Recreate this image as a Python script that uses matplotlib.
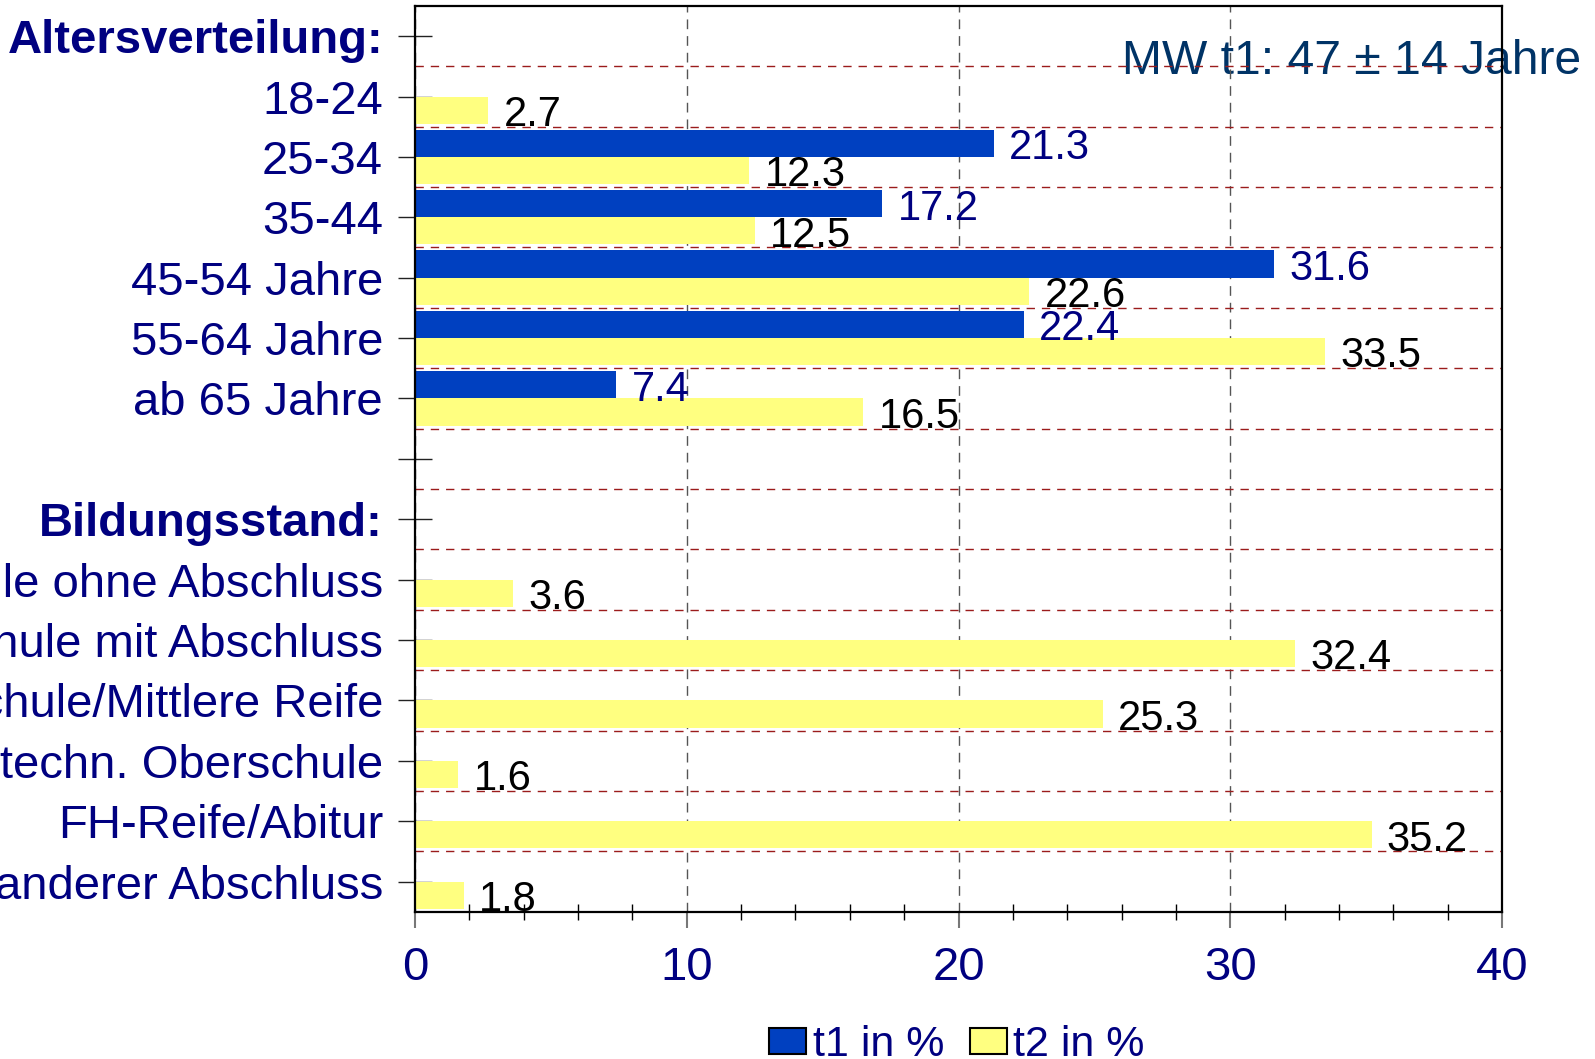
import numpy as np
import matplotlib
matplotlib.use("Agg")
import matplotlib.pyplot as plt
from matplotlib.patches import Patch
from matplotlib.ticker import MultipleLocator, FixedLocator

plt.rcParams['font.family'] = ['Liberation Sans', 'DejaVu Sans']

# ---- data ----
categories = ["Altersverteilung:", "18-24", "25-34", "35-44", "45-54 Jahre",
              "55-64 Jahre", "ab 65 Jahre", "", "Bildungsstand:",
              "Hauptschule ohne Abschluss", "Hauptschule mit Abschluss",
              "Realschule/Mittlere Reife", "Polytechn. Oberschule",
              "FH-Reife/Abitur", "anderer Abschluss"]
bold_labels = ["Altersverteilung:", "Bildungsstand:"]
t1_values = [None, None, 21.3, 17.2, 31.6, 22.4, 7.4, None, None,
             None, None, None, None, None, None]
t2_values = [None, 2.7, 12.3, 12.5, 22.6, 33.5, 16.5, None, None,
             3.6, 32.4, 25.3, 1.6, 35.2, 1.8]
series_names = ["t1 in %", "t2 in %"]
x_ticks = [0, 10, 20, 30, 40]
note = "MW t1: 47 \u00b1 14 Jahre"

# ---- styles ----
BLUE = "#0040C0"
YELLOW = "#FFFF80"
NAVY = "#000080"
NOTE_COLOR = "#003366"

fig = plt.figure(figsize=(15.95, 10.59), dpi=100)
ax = fig.add_axes([0.2602, 0.1391, 0.6815, 0.8553])

n = len(categories)
ypos = np.arange(n)
bar_h = 0.45

for i, v in enumerate(t1_values):
    if v is None:
        continue
    ax.barh(ypos[i] - bar_h / 2, v, height=bar_h, color=BLUE, zorder=2)
    ax.annotate(f"{v:.1f}", xy=(v, ypos[i] - bar_h / 2), xytext=(11, -3.5),
                textcoords="offset points", va="center", ha="left",
                fontsize=30, color=NAVY, annotation_clip=False, zorder=4)

for i, v in enumerate(t2_values):
    if v is None:
        continue
    ax.barh(ypos[i] + bar_h / 2, v, height=bar_h, color=YELLOW, zorder=2)
    ax.annotate(f"{v:.1f}", xy=(v, ypos[i] + bar_h / 2), xytext=(11, -3.5),
                textcoords="offset points", va="center", ha="left",
                fontsize=30, color="black", annotation_clip=False, zorder=4)

ax.set_xlim(x_ticks[0], x_ticks[-1])
ax.set_ylim(n - 0.5, -0.5)

ax.set_yticks(ypos)
ax.set_yticklabels(categories)
for lab in ax.get_yticklabels():
    if lab.get_text() in bold_labels:
        lab.set_fontweight("bold")

ax.yaxis.set_minor_locator(FixedLocator(np.arange(0.5, n - 1, 1.0)))
ax.tick_params(axis="y", which="minor", length=0)
ax.tick_params(axis="y", which="major", direction="inout", length=24,
               width=1, color="#222222", pad=11, labelsize=34,
               labelcolor=NAVY)

ax.set_xticks(x_ticks)
ax.xaxis.set_minor_locator(MultipleLocator(2))
ax.tick_params(axis="x", which="major", direction="out", length=11.5,
               width=1.5, color="#777777", pad=13, labelsize=34,
               labelcolor=NAVY)
ax.tick_params(axis="x", which="minor", direction="inout", length=11,
               width=1, color="black")

ax.set_axisbelow(True)
ax.grid(axis="y", which="minor", color="#9b1c1c", linestyle=(0, (6, 5)),
        linewidth=1)
ax.grid(axis="x", which="major", color="#555555", linestyle=(0, (7, 5)),
        linewidth=1)

for sp in ax.spines.values():
    sp.set_linewidth(1.6)
    sp.set_color("black")
    sp.set_zorder(5)

ax.text(26.0, 0.42, note, fontsize=34.6, color=NOTE_COLOR, va="center",
        ha="left", clip_on=False, zorder=0.3)

handles = [Patch(facecolor=BLUE, edgecolor="black", linewidth=1.5,
                 label=series_names[0]),
           Patch(facecolor=YELLOW, edgecolor="black", linewidth=1.5,
                 label=series_names[1])]
fig.legend(handles=handles, loc="lower center", bbox_to_anchor=(0.6, -0.006),
           ncol=2, frameon=False, fontsize=31, handlelength=0.86,
           handleheight=0.56, handletextpad=0.15, columnspacing=0.6,
           borderpad=0, borderaxespad=0, labelcolor=NAVY)

fig.savefig("out.png", dpi=100)
